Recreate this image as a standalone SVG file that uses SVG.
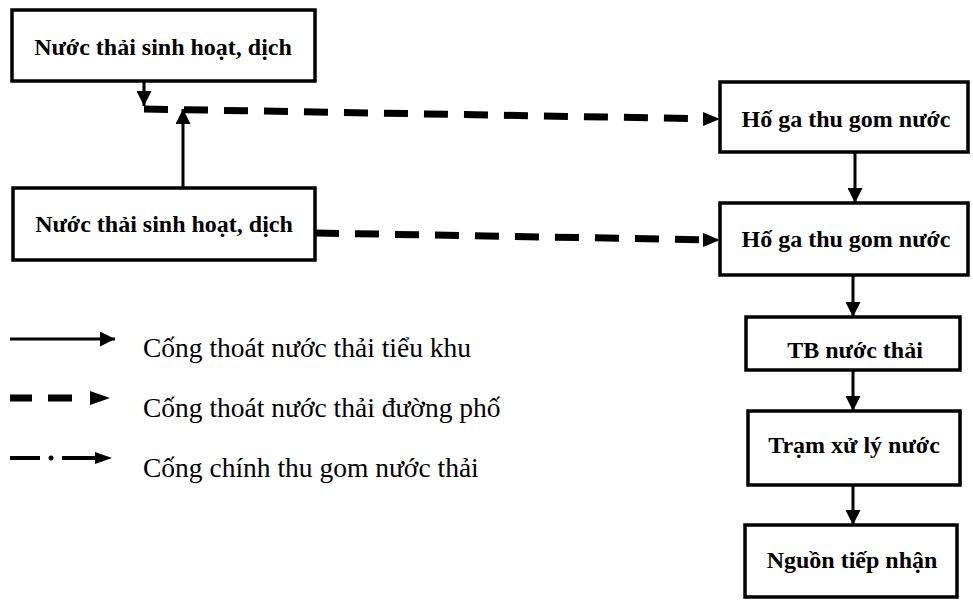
<svg xmlns="http://www.w3.org/2000/svg" width="973" height="602" viewBox="0 0 973 602">
<defs>
<marker id="ah" viewBox="0 0 10 10" refX="10" refY="5" markerWidth="5" markerHeight="5" markerUnits="strokeWidth" orient="auto">
<path d="M0,0 L10,5 L0,10 z" fill="#000"/>
</marker>
<style>
.box{fill:#fff;stroke:#000;stroke-width:3.5}
.t{font-family:"Liberation Serif","Times New Roman",serif;font-weight:bold;font-size:24px;fill:#000;text-anchor:middle}
.lg{font-family:"Liberation Serif","Times New Roman",serif;font-size:27.5px;fill:#000}
.solid{fill:none;stroke:#000;stroke-width:3}
.dash{fill:none;stroke:#000;stroke-width:7;stroke-dasharray:24 16}
.head{fill:#000}
</style>
</defs>
<rect width="973" height="602" fill="#fff"/>
<g id="n1"><rect class="box" x="12" y="10" width="303" height="71"/><text class="t" x="163" y="55">Nước thải sinh hoạt, dịch</text></g>
<g id="n2"><rect class="box" x="13" y="188" width="302" height="72"/><text class="t" x="164" y="232">Nước thải sinh hoạt, dịch</text></g>
<g id="n3"><rect class="box" x="720" y="82" width="248" height="70"/><text class="t" x="846" y="127">Hố ga thu gom nước</text></g>
<g id="n4"><rect class="box" x="720" y="203" width="248" height="72"/><text class="t" x="846" y="247">Hố ga thu gom nước</text></g>
<g id="n5"><rect class="box" x="746" y="317" width="214" height="53"/><text class="t" x="855" y="358">TB nước thải</text></g>
<g id="n6"><rect class="box" x="748" y="411" width="212" height="74"/><text class="t" x="854" y="453">Trạm xử lý nước</text></g>
<g id="n7"><rect class="box" x="745" y="525" width="212" height="72"/><text class="t" x="852" y="568">Nguồn tiếp nhận</text></g>
<g id="connectors">
<path class="solid" d="M144,81 L144,106" marker-end="url(#ah)"/>
<path class="solid" d="M183,188 L183,109" marker-end="url(#ah)"/>
<path class="dash" d="M144,109 L700,118.7"/>
<path class="head" d="M703,112 L720,119 L703,126 z"/>
<path class="dash" d="M315,233 L700,239.7"/>
<path class="head" d="M703,233 L720,240 L703,247 z"/>
<path class="solid" d="M855,152 L855,203" marker-end="url(#ah)"/>
<path class="solid" d="M853,275 L853,317" marker-end="url(#ah)"/>
<path class="solid" d="M853,370 L853,411" marker-end="url(#ah)"/>
<path class="solid" d="M853,485 L853,525" marker-end="url(#ah)"/>
</g>
<g id="legend">
<path class="solid" d="M10,339 L115,339" marker-end="url(#ah)"/>
<path d="M10,398 L32,398 M48,398 L72,398" stroke="#000" stroke-width="7" fill="none"/>
<path class="head" d="M90,391 L110,398 L90,405 z"/>
<path d="M10,458 L40,458 M62,458 L95,458" stroke="#000" stroke-width="4" fill="none"/>
<circle cx="51" cy="458" r="2.5" fill="#000"/>
<path class="head" d="M95,452 L112,458 L95,464 z"/>
<text class="lg" x="143" y="357">Cống thoát nước thải tiểu khu</text>
<text class="lg" x="143" y="417">Cống thoát nước thải đường phố</text>
<text class="lg" x="143" y="477">Cống chính thu gom nước thải</text>
</g>
</svg>
